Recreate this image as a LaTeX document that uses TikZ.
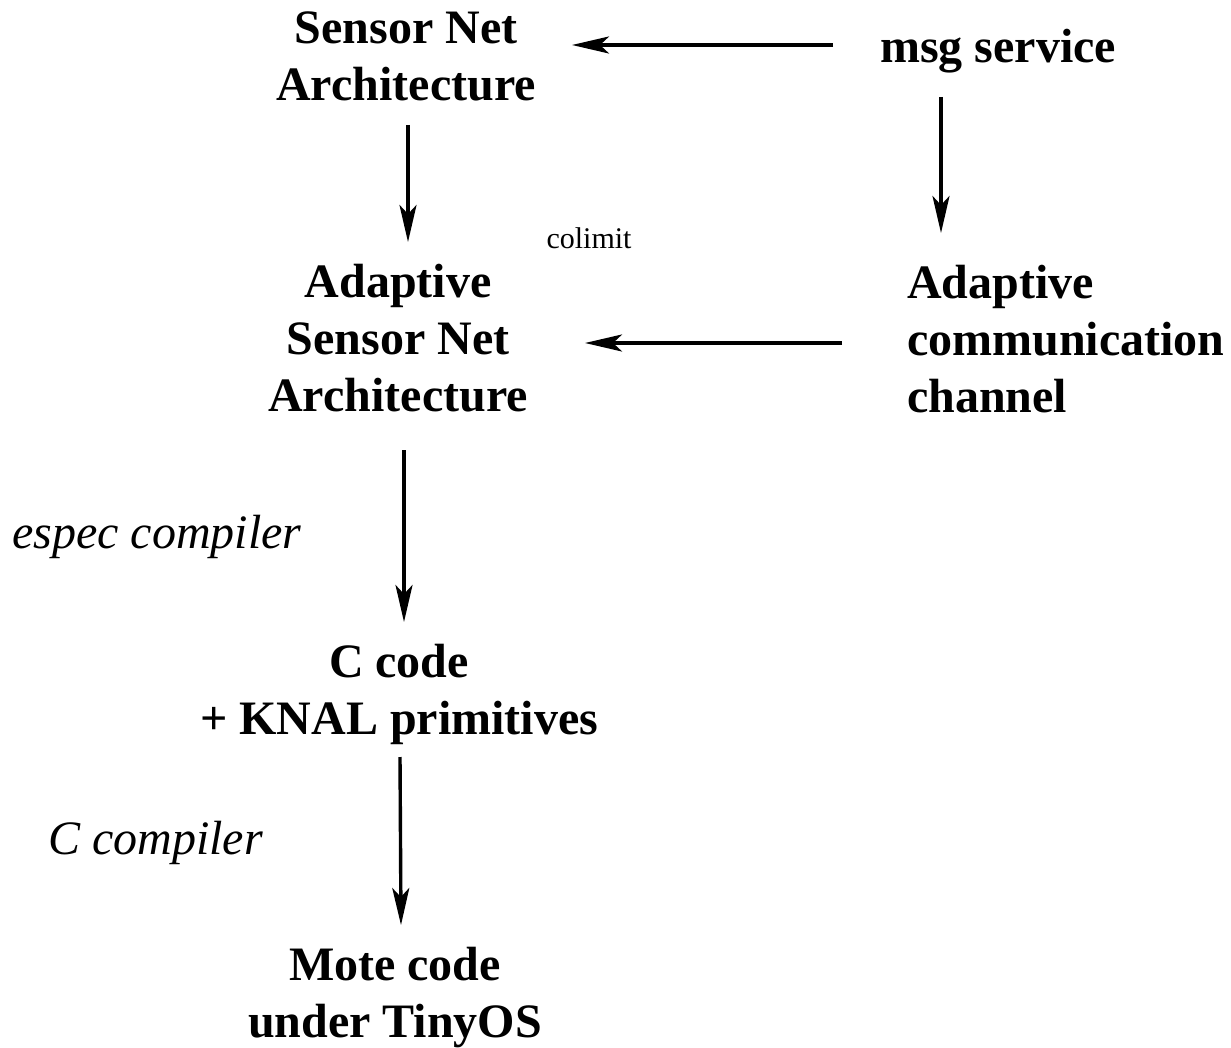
\documentclass[tikz,border=0pt]{standalone}
\usepackage{fontspec}
\setmainfont{Liberation Serif}
\usetikzlibrary{arrows.meta}

\begin{document}
\begin{tikzpicture}[x=1pt,y=-1pt,
  big/.style={inner sep=0pt, font=\fontsize{48}{57}\selectfont\bfseries},
  note/.style={inner sep=0pt, font=\fontsize{48}{57}\selectfont\itshape},
  small/.style={inner sep=0pt, font=\fontsize{30}{36}\selectfont},
  arr/.style={line width=3.4pt, -{Stealth[length=37pt, width=17pt, inset=9pt]}}]
  \useasboundingbox (0,0) rectangle (1231,1048);

  % blocks of the chain
  \node[big, anchor=base] (sna) at (406,44)
    {\begin{tabular}[t]{@{}c@{}}Sensor Net\\Architecture\end{tabular}};
  \node[big, anchor=base] (msg) at (998,63) {msg service};
  \node[big, anchor=base] (asna) at (398,298)
    {\begin{tabular}[t]{@{}c@{}}Adaptive\\Sensor Net\\Architecture\end{tabular}};
  \node[big, anchor=base west] (acc) at (907,299)
    {\begin{tabular}[t]{@{}l@{}}Adaptive\\communication\\channel\end{tabular}};
  \node[big, anchor=base] (cc) at (399,677)
    {\begin{tabular}[t]{@{}c@{}}C code\\+ KNAL primitives\end{tabular}};
  \node[big, anchor=base] (mote) at (395,980)
    {\begin{tabular}[t]{@{}c@{}}Mote code\\under TinyOS\end{tabular}};

  % labels
  \node[small, anchor=base] (colim) at (589,249) {colimit};
  \node[note, anchor=base west] (espec) at (12,548) {espec compiler};
  \node[note, anchor=base west] (ccomp) at (48,854) {C compiler};

  % arrow ends
  \coordinate (msgL) at (833,45);
  \coordinate (snaR) at (572,45);
  \coordinate (snaB) at (408,125);
  \coordinate (asnaT) at (408,242);
  \coordinate (msgB) at (941,97);
  \coordinate (accT) at (941,233);
  \coordinate (accL) at (842,343);
  \coordinate (asnaR) at (585,343);
  \coordinate (asnaB) at (404,450);
  \coordinate (ccT) at (404,622);
  \coordinate (ccB) at (400,757);
  \coordinate (moteT) at (401,925);

  \draw[arr] (msgL) -- (snaR);
  \draw[arr] (snaB) -- (asnaT);
  \draw[arr] (msgB) -- (accT);
  \draw[arr] (accL) -- (asnaR);
  \draw[arr] (asnaB) -- (ccT);
  \draw[arr] (ccB) -- (moteT);
\end{tikzpicture}
\end{document}
